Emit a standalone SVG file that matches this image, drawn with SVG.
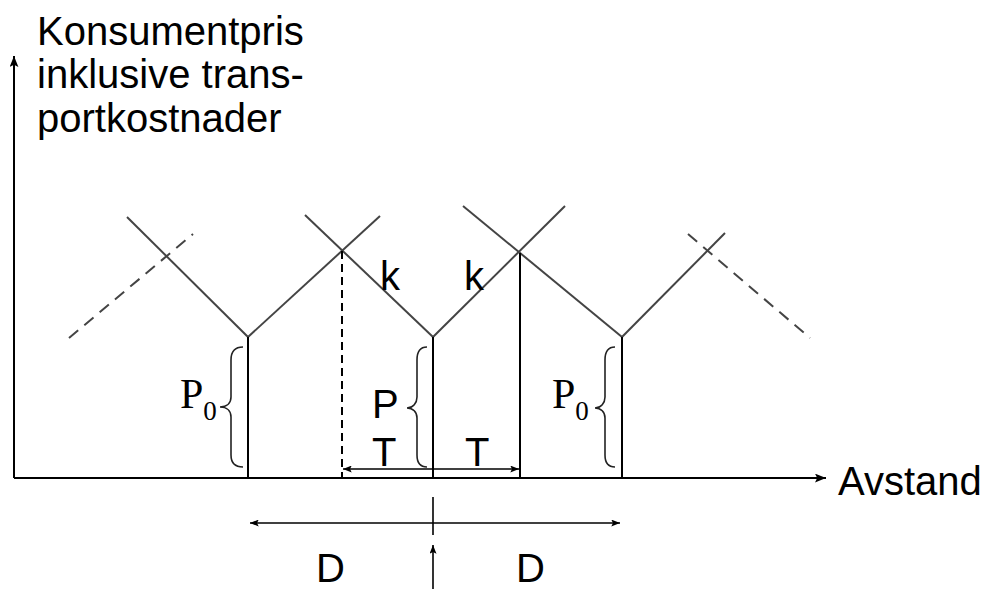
<svg xmlns="http://www.w3.org/2000/svg" width="985" height="589" viewBox="0 0 985 589">
  <defs>
    <marker id="arrow" viewBox="0 0 10 8" refX="10" refY="4" markerWidth="11" markerHeight="9" markerUnits="userSpaceOnUse" orient="auto-start-reverse">
      <path d="M0,0 L10,4 L0,8 L2,4 Z" fill="#000"/>
    </marker>
    <marker id="arrowSmall" viewBox="0 0 10 8" refX="10" refY="4" markerWidth="9" markerHeight="7" markerUnits="userSpaceOnUse" orient="auto-start-reverse">
      <path d="M0,0 L10,4 L0,8 L2,4 Z" fill="#000"/>
    </marker>
  </defs>
  <style>
    .axis { stroke: #000; stroke-width: 2; fill: none; }
    .price { stroke: #444; stroke-width: 2; fill: none; }
    .dash { stroke: #444; stroke-width: 2; fill: none; stroke-dasharray: 12 8; }
    .post { stroke: #000; stroke-width: 2; fill: none; }
    .postDash { stroke: #000; stroke-width: 2; fill: none; stroke-dasharray: 8 5; }
    .brace { stroke: #222; stroke-width: 1.6; fill: none; }
    .dim { stroke: #000; stroke-width: 1.6; fill: none; }
    .sans { font-family: "Liberation Sans", Arial, sans-serif; font-size: 40px; fill: #000; }
    .serif { font-family: "Liberation Serif", "Times New Roman", serif; font-size: 42px; fill: #000; }
    .sub { font-size: 27px; }
  </style>

  <rect width="985" height="589" fill="#fff"/>

  <!-- axes -->
  <g id="axes">
    <line class="axis" x1="14" y1="478" x2="14" y2="56" marker-end="url(#arrow)"/>
    <line class="axis" x1="14" y1="478" x2="826" y2="478" marker-end="url(#arrow)"/>
    <text class="sans" x="37" y="45">Konsumentpris</text>
    <text class="sans" x="37" y="88">inklusive trans-</text>
    <text class="sans" x="37" y="132">portkostnader</text>
    <text class="sans" x="838" y="495">Avstand</text>
  </g>

  <!-- delivered-price cones of the neighbouring sellers -->
  <g id="cones">
    <line class="dash" x1="69" y1="338" x2="193" y2="234"/>
    <line class="price" x1="127" y1="217" x2="248" y2="337"/>
    <line class="price" x1="248" y1="337" x2="380" y2="216"/>
    <line class="price" x1="305" y1="215" x2="433" y2="337"/>
    <line class="price" x1="433" y1="337" x2="565" y2="206"/>
    <line class="price" x1="463" y1="206" x2="622" y2="337"/>
    <line class="price" x1="622" y1="337" x2="725" y2="233"/>
    <line class="dash" x1="688" y1="234" x2="810" y2="338"/>
  </g>

  <!-- seller posts -->
  <g id="seller-left">
    <line class="post" x1="248" y1="337" x2="248" y2="478"/>
    <path class="brace" d="M243,347 C234,347 231,352 231,360 L231,397 C231,403 227,407 220,407 C227,407 231,411 231,417 L231,455 C231,462 234,467 243,467"/>
    <text class="serif" x="180" y="408">P<tspan class="sub" dy="12">0</tspan></text>
  </g>
  <g id="seller-center">
    <line class="post" x1="433" y1="337" x2="433" y2="478"/>
    <path class="brace" d="M427,347 C420,347 417,352 417,360 L417,397 C417,403 413,408 407,408 C413,408 417,412 417,418 L417,455 C417,462 420,467 427,467"/>
    <text class="sans" x="372" y="418">P</text>
  </g>
  <g id="seller-right">
    <line class="post" x1="622" y1="337" x2="622" y2="478"/>
    <path class="brace" d="M615,347 C608,347 605,352 605,360 L605,397 C605,403 601,408 595,408 C601,408 605,412 605,418 L605,455 C605,462 608,467 615,467"/>
    <text class="serif" x="552" y="408">P<tspan class="sub" dy="12">0</tspan></text>
  </g>

  <!-- market boundaries -->
  <g id="boundary-left">
    <line class="postDash" x1="342" y1="251" x2="342" y2="478"/>
  </g>
  <g id="boundary-right">
    <line class="post" x1="520" y1="253" x2="520" y2="478"/>
  </g>

  <!-- slope labels -->
  <g id="slopes">
    <text class="sans" x="380" y="290">k</text>
    <text class="sans" x="464" y="290">k</text>
  </g>

  <!-- dimension arrows -->
  <g id="connectors">
    <line class="dim" x1="343" y1="469" x2="519" y2="469" marker-start="url(#arrowSmall)" marker-end="url(#arrowSmall)"/>
    <line class="dim" x1="250" y1="523" x2="620" y2="523" marker-start="url(#arrowSmall)" marker-end="url(#arrowSmall)"/>
    <line class="dim" x1="433" y1="497" x2="433" y2="535"/>
    <line class="dim" x1="433" y1="589" x2="433" y2="545" marker-end="url(#arrowSmall)"/>
  </g>
  <g id="dimension-labels">
    <text class="sans" x="372" y="466">T</text>
    <text class="sans" x="465" y="466">T</text>
    <text class="sans" x="316" y="582">D</text>
    <text class="sans" x="516" y="582">D</text>
  </g>
</svg>
